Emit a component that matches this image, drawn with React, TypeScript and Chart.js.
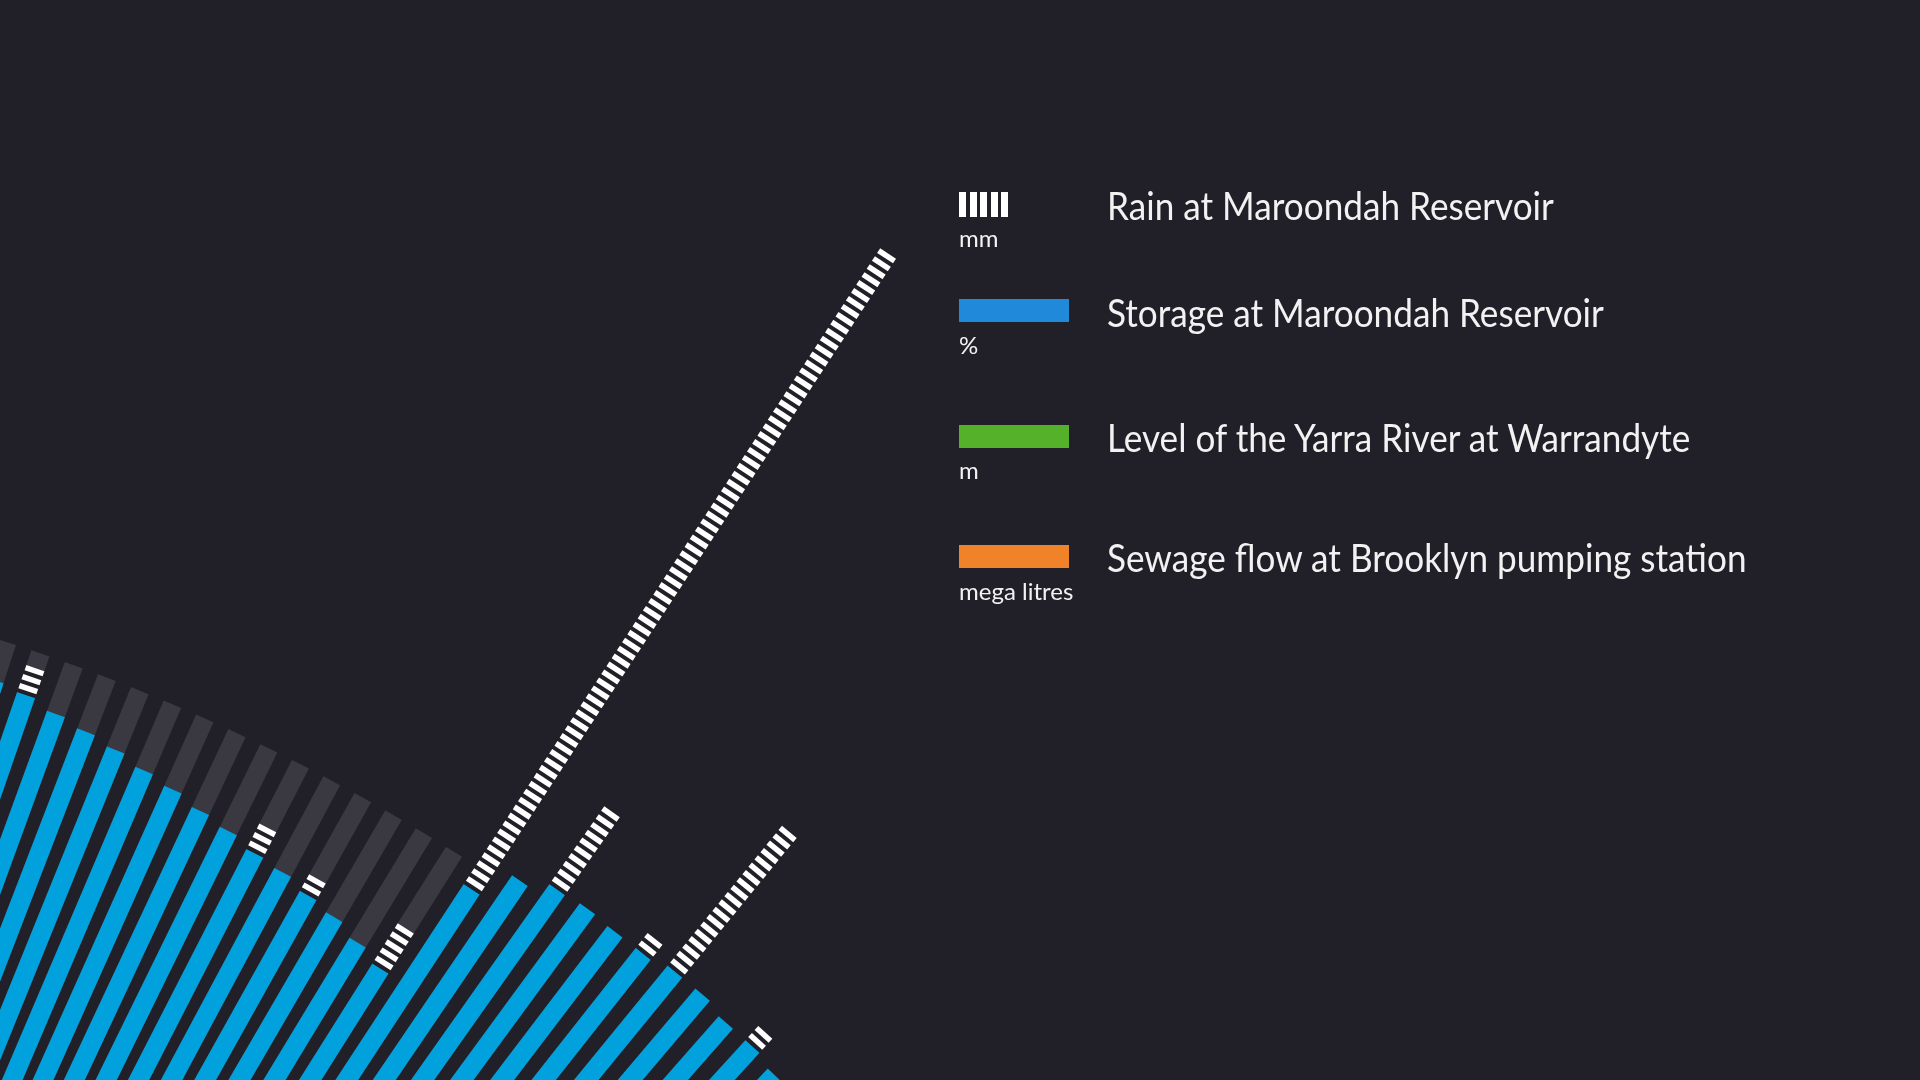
import React, { useEffect, useRef } from 'react';
import { Chart, PolarAreaController, ArcElement, RadialLinearScale } from 'chart.js';

// ---------- data (one spoke per day) ----------
const DAYS = [
  'D01', 'D02', 'D03', 'D04', 'D05', 'D06', 'D07', 'D08', 'D09', 'D10', 'D11', 'D12', 'D13',
  'D14', 'D15', 'D16', 'D17', 'D18', 'D19', 'D20', 'D21', 'D22', 'D23', 'D24', 'D25', 'D26',
];
// Storage at Maroondah Reservoir (%)
const STORAGE_PCT = [
  98.0, 97.8, 97.4, 97.1, 96.8, 96.4, 96.1, 95.7, 95.4, 95.0, 94.8, 94.4, 94.1,
  93.6, 93.1, 98.9, 100.6, 101.3, 101.4, 101.3, 101.3, 101.6, 101.6, 101.3, 101.3, 101.0,
];
// Rain at Maroondah Reservoir (mm) - one stripe per mm
const RAIN_MM = [
  0, 3, 0, 0, 0, 0, 0, 0, 0, 3, 0, 2, 0,
  0, 5, 80, 0, 10, 0, 0, 2, 19, 0, 0, 2, 0,
];
// Full capacity track (%)
const CAPACITY_PCT = [
  100, 100, 100, 100, 100, 100, 100, 100, 100, 100, 100, 100, 100,
  100, 100, 100, 100, 100, 100, 100, 100, 100, 100, 100, 100, 100,
];

// ---------- styling / layout constants ----------
const BG = '#211f27';
const BAR_BLUE = '#00a1dc';
const TRACK_GREY = '#3a3942';
const STRIPE_WHITE = '#ffffff';
const TEXT = '#f2f2f2';
const DAY_ANGLE = 1.013;
const START_ANGLE = 17.52;
const RAIN_MM_TO_PCT = 0.475;
const SPOKE_W = 19;

const CENTER_X = -612;
const CENTER_Y = 2544;
const R100 = 2000;
const CANVAS_LEFT = CENTER_X - R100;
const CANVAS_W = 1920 - CANVAS_LEFT;
const CANVAS_H = CENTER_Y + R100;

// ---------- custom radial "spoke" element + controller ----------
class SpokeElement extends ArcElement {
  static id = 'spoke';
  static defaults = {
    ...(ArcElement as any).defaults,
    angle: undefined,
    spokeWidth: 19,
    stripes: 0,
    stripeFill: 0.58,
    gapColor: 'transparent',
  };
  draw(ctx: CanvasRenderingContext2D) {
    const el: any = this;
    const o: any = el.options;
    const inner = el.innerRadius || 0;
    const outer = el.outerRadius;
    if (!(outer > inner)) return;
    const mid = (el.startAngle + el.endAngle) / 2;
    const w = o.spokeWidth;
    const len = outer - inner;
    ctx.save();
    ctx.translate(el.x, el.y);
    ctx.rotate(mid);
    const n = o.stripes || 0;
    if (n > 0) {
      ctx.fillStyle = o.gapColor;
      ctx.fillRect(inner, -w / 2, len, w);
      const pitch = len / n;
      const white = pitch * o.stripeFill;
      ctx.fillStyle = o.backgroundColor;
      for (let k = 0; k < n; k++) {
        ctx.fillRect(inner + (k + 1) * pitch - white, -w / 2, white, w);
      }
    } else {
      ctx.fillStyle = o.backgroundColor;
      ctx.fillRect(inner, -w / 2, len, w);
    }
    ctx.restore();
  }
}

class SpokeController extends PolarAreaController {
  static id = 'spoke';
  static defaults = { ...(PolarAreaController as any).defaults, dataElementType: 'spoke' };
  static overrides = (PolarAreaController as any).overrides;
  updateElements(arcs: any[], start: number, count: number, mode: any) {
    // @ts-ignore
    super.updateElements(arcs, start, count, mode);
    const ds: any = (this as any).getDataset();
    if (!ds.stackOn) return;
    const scale: any = (this as any)._cachedMeta.rScale;
    for (let i = start; i < start + count; i++) {
      const base = ds.stackOn[i];
      const v = (this as any).getParsed(i).r;
      arcs[i].innerRadius = scale.getDistanceFromCenterForValue(base);
      arcs[i].outerRadius = scale.getDistanceFromCenterForValue(base + v * ds.unitToScale);
    }
  }
}

Chart.register(SpokeController as any, SpokeElement as any, RadialLinearScale);

// ---------- legend ----------
const FONT = 'Lato, "Open Sans", sans-serif';

function Legend() {
  const label = (text: string, top: number) => (
    <div
      style={{
        position: 'absolute', left: 1107, top, fontSize: 38, lineHeight: '38px',
        color: TEXT, fontFamily: FONT, whiteSpace: 'nowrap',
        transform: 'scaleX(0.925)', transformOrigin: 'left center',
      }}
    >{text}</div>
  );
  const unit = (text: string, top: number) => (
    <div
      style={{
        position: 'absolute', left: 959, top, fontSize: 24, lineHeight: '24px',
        color: TEXT, fontFamily: FONT, whiteSpace: 'nowrap',
      }}
    >{text}</div>
  );
  const rect = (color: string, top: number) => (
    <div style={{ position: 'absolute', left: 959, top, width: 110, height: 23, background: color }} />
  );
  return (
    <>
      <div style={{ position: 'absolute', left: 959, top: 192, height: 25, display: 'flex', gap: 3.5 }}>
        {[0, 1, 2, 3, 4].map((i) => (
          <div key={i} style={{ width: 7, height: 25, background: STRIPE_WHITE }} />
        ))}
      </div>
      {unit('mm', 226)}
      {label('Rain at Maroondah Reservoir', 186)}

      {rect('#2189da', 299)}
      {unit('%', 333)}
      {label('Storage at Maroondah Reservoir', 293)}

      {rect('#55b02a', 425)}
      {unit('m', 458)}
      {label('Level of the Yarra River at Warrandyte', 418)}

      {rect('#f08229', 545)}
      {unit('mega litres', 579)}
      {label('Sewage flow at Brooklyn pumping station', 538)}
    </>
  );
}

export default function App() {
  const ref = useRef<HTMLCanvasElement | null>(null);

  useEffect(() => {
    if (!ref.current) return;
    const common = { angle: DAY_ANGLE, spokeWidth: SPOKE_W, clip: false, borderWidth: 0 };
    const chart = new Chart(ref.current, {
      type: 'spoke' as any,
      data: {
        labels: DAYS,
        datasets: [
          {
            label: 'Rain at Maroondah Reservoir (mm)',
            data: RAIN_MM,
            stackOn: STORAGE_PCT,
            unitToScale: RAIN_MM_TO_PCT,
            stripes: RAIN_MM,
            backgroundColor: STRIPE_WHITE,
            gapColor: BG,
            ...common,
          } as any,
          {
            label: 'Storage at Maroondah Reservoir (%)',
            data: STORAGE_PCT,
            backgroundColor: BAR_BLUE,
            ...common,
          } as any,
          {
            label: 'Capacity (%)',
            data: CAPACITY_PCT,
            backgroundColor: TRACK_GREY,
            ...common,
          } as any,
        ],
      },
      options: {
        responsive: false,
        animation: false,
        events: [],
        layout: { padding: { left: 0, top: CENTER_Y - R100, right: CANVAS_W - 2 * R100, bottom: 0 } },
        plugins: { legend: { display: false }, tooltip: { enabled: false } },
        scales: {
          r: { display: false, min: 0, max: 100, startAngle: START_ANGLE } as any,
        },
      } as any,
    });
    return () => chart.destroy();
  }, []);

  return (
    <div
      style={{
        position: 'fixed', left: 0, top: 0, width: 1920, height: 1080,
        overflow: 'hidden', background: BG,
      }}
    >
      <canvas
        ref={ref}
        width={CANVAS_W}
        height={CANVAS_H}
        style={{ position: 'absolute', left: CANVAS_LEFT, top: 0 }}
      />
      <Legend />
    </div>
  );
}
